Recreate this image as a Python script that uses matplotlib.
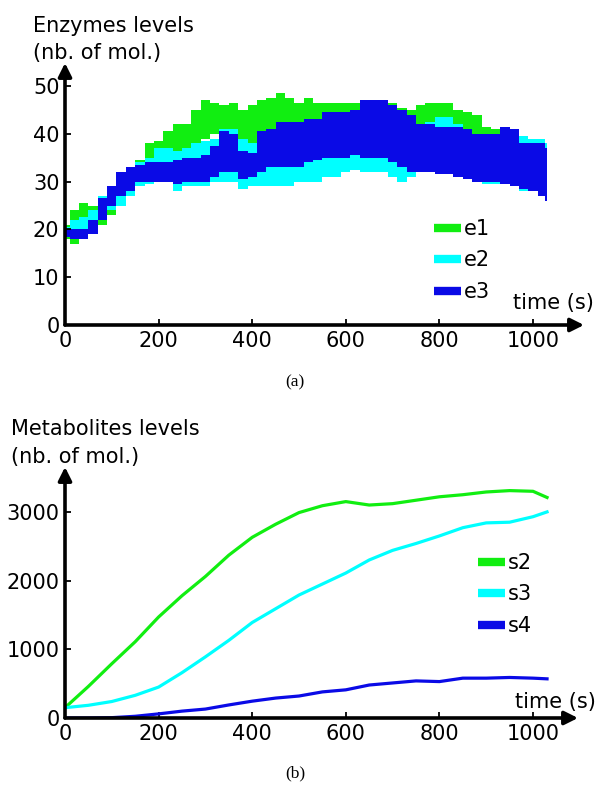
import matplotlib
matplotlib.use("Agg")
import matplotlib.pyplot as plt
import numpy as np
from matplotlib.lines import Line2D

# ---------------- data ----------------
# Enzymes (panel a): noisy signals given as lower / upper envelopes
t_enz = [0, 20, 40, 60, 80, 100, 120, 140, 160, 180, 200, 220, 240, 260, 280,
         300, 320, 340, 360, 380, 400, 420, 440, 460, 480, 500, 520, 540, 560,
         580, 600, 620, 640, 660, 680, 700, 720, 740, 760, 780, 800, 820, 840,
         860, 880, 900, 920, 940, 960, 980, 1000, 1020, 1030]
e1_low = [18, 17, 19, 19, 21, 23, 25, 27, 30, 32, 34, 35, 35.5, 36, 38,
          39, 40, 40, 39, 37.5, 37.5, 40, 41, 41, 41, 40, 40, 40, 40,
          40, 40, 40, 40, 40, 40, 40, 39, 38, 39, 39, 39, 39, 39,
          38, 37, 36, 35, 34, 33, 32, 30, 28, 26]
e1_high = [21, 24, 25.5, 25, 26, 28, 32, 33, 34.5, 38, 38.5, 40.5, 42, 42, 45,
           47, 46.5, 46, 46.5, 45, 46, 47, 47.5, 48.5, 47.5, 46.5, 47.5, 46.5, 46.5,
           46.5, 46.5, 46.5, 46.5, 46.5, 46.5, 46.5, 45.5, 45, 46, 46.5, 46.5, 46.5, 45,
           44.5, 44, 41.5, 41, 40.5, 40, 39.5, 38, 37, 35]
e2_low = [19, 19, 19.5, 20, 22, 24, 25, 27, 29, 29.5, 30, 30, 28, 29, 29,
          29, 30, 30, 30, 28.5, 29, 29, 29, 29, 29, 30, 30, 30, 31,
          31, 32, 32.5, 32, 32, 32, 31, 30, 31, 32, 32, 32, 31.5, 31,
          31, 30, 29.5, 29.5, 29.5, 29, 28, 28, 28, 29]
e2_high = [20.5, 22, 22.5, 24, 27, 28, 31, 33, 34, 35, 37, 37, 36.5, 37, 38,
           38.5, 39, 41, 41, 39, 38, 39.5, 40, 41, 41, 41, 41, 42, 42,
           43, 43, 44, 44, 44, 44, 44, 43, 42, 42, 42.5, 43.5, 43.5, 42,
           41, 40, 40, 39.5, 39.5, 39.5, 39.5, 39, 39, 38]
e3_low = [18.5, 18, 18, 19, 22, 25, 27, 28, 30, 30, 30, 30, 29.5, 30, 30,
          30, 31, 32, 32, 30.5, 31, 32, 33, 33, 33, 33, 34, 34.5, 35,
          35, 35, 35.5, 35, 35, 35, 34, 33, 32, 32, 32, 31.5, 31.5, 31,
          30.5, 30, 30, 30, 29.5, 29, 28.5, 28, 27, 26]
e3_high = [20, 20, 20, 22, 26.5, 29, 32, 33, 33.5, 34, 34, 34, 34.5, 35, 35,
           35.5, 37.5, 40.5, 40, 36.5, 36, 40.5, 41, 42.5, 42.5, 42.5, 43, 43, 44.5,
           44.5, 44.5, 45, 47, 47, 47, 46, 45, 44, 42, 42, 41.5, 41.5, 41.5,
           41, 40, 40, 40, 41.5, 41, 38, 38, 38, 37]

# Metabolites (panel b)
t_met = [0, 50, 100, 150, 200, 250, 300, 350, 400, 450, 500, 550, 600, 650,
         700, 750, 800, 850, 900, 950, 1000, 1030]
s2 = [150, 460, 790, 1110, 1470, 1780, 2060, 2370, 2630, 2820, 2990, 3090, 3150,
      3100, 3120, 3170, 3220, 3250, 3290, 3310, 3300, 3210]
s3 = [150, 185, 240, 330, 450, 660, 890, 1130, 1390, 1590, 1790, 1950, 2110,
      2300, 2440, 2540, 2650, 2770, 2840, 2850, 2930, 3000]
s4 = [0, 0, 5, 25, 60, 100, 130, 190, 245, 290, 320, 380, 410, 480, 510, 540,
      530, 580, 580, 590, 580, 570]

x_ticks = [0, 200, 400, 600, 800, 1000]
y_ticks_a = [0, 10, 20, 30, 40, 50]
y_ticks_b = [0, 1000, 2000, 3000]

enz_labels = ["e1", "e2", "e3"]
met_labels = ["s2", "s3", "s4"]
colors = ["#11ee11", "#00ffff", "#0a0ae6"]

# ---------------- figure ----------------
W, H = 597, 785
fig = plt.figure(figsize=(W / 100, H / 100), dpi=100)
FS = 15


def px_axes(x0, y0, x1, y1):
    """x0,x1 horizontal pixels; y0 = bottom pixel (from top), y1 = top pixel."""
    return fig.add_axes([x0 / W, 1 - y0 / H, (x1 - x0) / W, (y0 - y1) / H])


def style(ax, yt):
    for s in ax.spines.values():
        s.set_visible(False)
    ax.set_xticks(x_ticks)
    ax.set_yticks(yt)
    ax.tick_params(direction="in", length=4, width=1.3, labelsize=FS, pad=4,
                   colors="black")
    ax.patch.set_alpha(0)
    kw = dict(arrowstyle="-|>", lw=2.6, color="black", mutation_scale=20,
              shrinkA=0, shrinkB=0)
    ax.annotate("", xy=(1, 0), xytext=(0, 0), xycoords="axes fraction",
                arrowprops=kw, annotation_clip=False)
    ax.annotate("", xy=(0, 1), xytext=(0, 0), xycoords="axes fraction",
                arrowprops=kw, annotation_clip=False)


# Panel (a)
ax1 = px_axes(65, 325, 584, 63)
ax1.set_xlim(0, (584 - 65) / 0.468)
ax1.set_ylim(0, (325 - 63) / 4.78)
for lo, hi, c in zip([e1_low, e2_low, e3_low], [e1_high, e2_high, e3_high], colors):
    ax1.fill_between(t_enz, lo, hi, step="mid", color=c, lw=0)
style(ax1, y_ticks_a)
h1 = [Line2D([], [], color=c, lw=6, solid_capstyle="butt") for c in colors]
ax1.legend(h1, enz_labels, loc="upper left", frameon=False, fontsize=FS,
           bbox_to_anchor=(434 / W, 1 - 219 / H), bbox_transform=fig.transFigure,
           borderpad=0, borderaxespad=0, handlelength=1.3, handletextpad=0.15,
           labelspacing=0.55)

# Panel (b)
ax2 = px_axes(65, 718, 578, 467)
ax2.set_xlim(0, (578 - 65) / 0.468)
ax2.set_ylim(0, (718 - 467) / 0.0687)
for s, c in zip([s2, s3, s4], colors):
    ax2.plot(t_met, s, color=c, lw=2.3)
style(ax2, y_ticks_b)
h2 = [Line2D([], [], color=c, lw=6, solid_capstyle="butt") for c in colors]
ax2.legend(h2, met_labels, loc="upper left", frameon=False, fontsize=FS,
           bbox_to_anchor=(478 / W, 1 - 553 / H), bbox_transform=fig.transFigure,
           borderpad=0, borderaxespad=0, handlelength=1.3, handletextpad=0.15,
           labelspacing=0.55)

# Texts
def ftext(x, y, s, **kw):
    fig.text(x / W, 1 - y / H, s, **kw)

ftext(33, 32, "Enzymes levels", fontsize=FS, va="baseline", ha="left")
ftext(33, 58.5, "(nb. of mol.)", fontsize=FS, va="baseline", ha="left")
ftext(594, 309, "time (s)", fontsize=FS, va="baseline", ha="right")
ftext(11, 435, "Metabolites levels", fontsize=FS, va="baseline", ha="left")
ftext(11, 462.5, "(nb. of mol.)", fontsize=FS, va="baseline", ha="left")
ftext(596, 708, "time (s)", fontsize=FS, va="baseline", ha="right")
ftext(295, 382, "(a)", fontsize=12.5, ha="center", va="center",
      family="Liberation Serif")
ftext(295, 773, "(b)", fontsize=12.5, ha="center", va="center",
      family="Liberation Serif")

fig.savefig("out.png", dpi=100)
